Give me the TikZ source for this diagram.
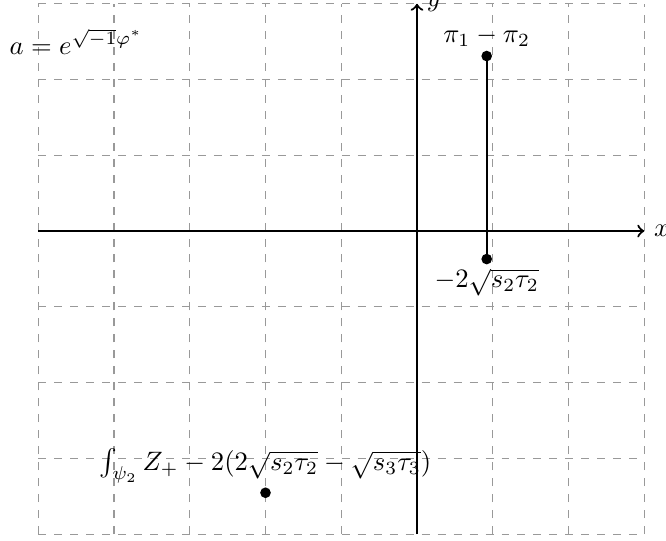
\documentclass[tikz,border=0pt]{standalone}
\begin{document}
\begin{tikzpicture}[
  gridline/.style={gray!80, dashed, thin},
  axis/.style={thick, ->},
  dot/.style={circle, fill=black, inner sep=0pt, minimum size=4pt},
]
\useasboundingbox (-5.505,-4.079) rectangle (3.287,3.05);
\draw[gridline] (-5,-4) grid (3,3);
\coordinate (xs) at (-5,0);
\coordinate (xe) at (3,0);
\coordinate (ys) at (0,-4);
\coordinate (ye) at (0,3);
\draw[axis] (xs) -- (xe) node[right] (xl) {$x$};
\draw[axis] (ys) -- (ye) node[right] (yl) {$y$};
\node[dot] (p1) at (0.92,2.31) {};
\node[dot] (p2) at (0.92,-0.37) {};
\node[dot] (p3) at (-2,-3.455) {};
\draw[thick] (p1.center) -- (p2.center);
\node[above] (l1) at (p1.center) {$\pi_1 - \pi_2$};
\node[below] (l2) at (p2.center) {$-2\sqrt{s_2\tau_2}$};
\node[above] (l3) at (p3.center) {$\int_{\psi_2} Z_+ - 2(2\sqrt{s_2\tau_2} - \sqrt{s_3\tau_3})$};
\node (a) at (-4.5,2.5) {$a = e^{\sqrt{-1}\varphi^*}$};
\end{tikzpicture}
\end{document}
